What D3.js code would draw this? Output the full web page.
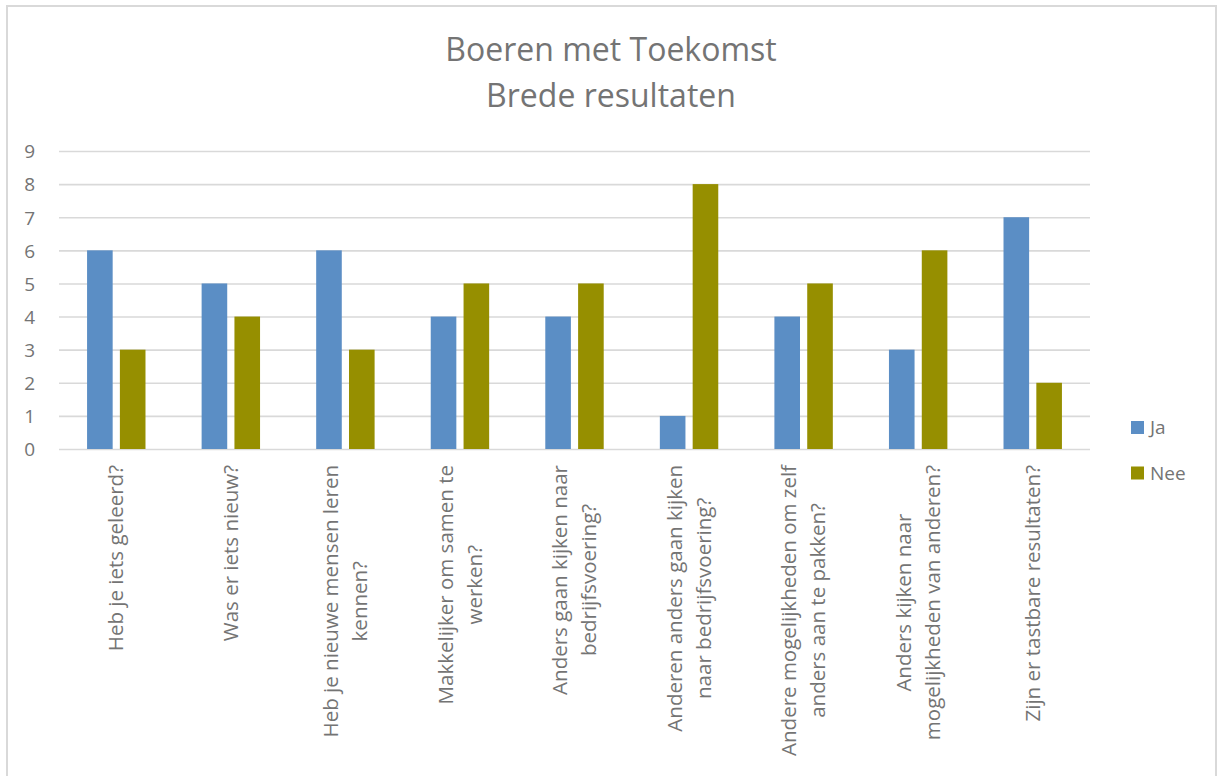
<!DOCTYPE html>
<html>
<head>
<meta charset="utf-8">
<script src="https://cdn.jsdelivr.net/npm/d3@7"></script>
<style>
  body { margin: 0; background: #fff; }
  text { font-family: "Open Sans", sans-serif; fill: #747474; }
</style>
</head>
<body>
<div id="chart"></div>
<script>

// Data
const title_lines = ['Boeren met Toekomst', 'Brede resultaten']
const categories = [
  'Heb je iets geleerd?',
  'Was er iets nieuw?',
  'Heb je nieuwe mensen leren\nkennen?',
  'Makkelijker om samen te\nwerken?',
  'Anders gaan kijken naar\nbedrijfsvoering?',
  'Anderen anders gaan kijken\nnaar bedrijfsvoering?',
  'Andere mogelijkheden om zelf\nanders aan te pakken?',
  'Anders kijken naar\nmogelijkheden van anderen?',
  'Zijn er tastbare resultaten?'
]
const series_names = ['Ja', 'Nee']
const ja_values = [6, 5, 6, 4, 4, 1, 4, 3, 7]
const nee_values = [3, 4, 3, 5, 5, 8, 5, 6, 2]
const y_ticks = [0, 1, 2, 3, 4, 5, 6, 7, 8, 9]
const colors = ['#5b8ec5', '#968f00']

////////////////////////////////////////////////////////////
// Layout
////////////////////////////////////////////////////////////

const W = 1217
const H = 776
const plot = { left: 59, right: 1090, top: 151, bottom: 449 }

let svg = d3.select('#chart')
  .append('svg')
  .attr('width', W)
  .attr('height', H)

// Outer border
svg.append('rect')
  .attr('x', 7)
  .attr('y', 6)
  .attr('width', 1209)
  .attr('height', 820)
  .attr('fill', 'none')
  .attr('stroke', '#d9d9d9')
  .attr('stroke-width', 2)

// Title
svg.append('g')
  .selectAll('text')
  .data(title_lines)
  .enter()
  .append('text')
    .attr('x', 611)
    .attr('y', (d, i) => 61 + i * 46)
    .attr('text-anchor', 'middle')
    .style('font-size', '32px')
    .text(d => d)

////////////////////////////////////////////////////////////
// Scales
////////////////////////////////////////////////////////////

let x0 = d3.scaleBand()
  .domain(categories)
  .range([plot.left, plot.right])
  .paddingInner(0.49)
  .paddingOuter(0.245)

let x1 = d3.scaleBand()
  .domain(series_names)
  .range([0, x0.bandwidth()])
  .paddingInner(0.22)

let y = d3.scaleLinear()
  .domain([0, 9])
  .range([plot.bottom, plot.top])

// Y axis + gridlines
let y_axis = svg.append('g')
  .attr('transform', `translate(${plot.left},0)`)
  .call(
    d3.axisLeft(y)
      .tickValues(y_ticks)
      .tickSize(-(plot.right - plot.left))
      .tickPadding(24)
  )
y_axis.select('.domain').remove()
y_axis.selectAll('line')
  .attr('stroke', '#d9d9d9')
  .attr('stroke-width', 1.6)
y_axis.selectAll('text')
  .style('font-size', '19px')
  .style('font-family', '"Open Sans", sans-serif')
  .attr('fill', '#747474')
  .attr('dy', '0.36em')

////////////////////////////////////////////////////////////
// Bars
////////////////////////////////////////////////////////////

let rows = categories.map((c, i) => ({
  cat: c,
  vals: [
    { name: series_names[0], v: ja_values[i] },
    { name: series_names[1], v: nee_values[i] }
  ]
}))

svg.append('g')
  .selectAll('g')
  .data(rows)
  .enter()
  .append('g')
    .attr('transform', d => `translate(${x0(d.cat)},0)`)
  .selectAll('rect')
  .data(d => d.vals)
  .enter()
  .append('rect')
    .attr('x', d => x1(d.name))
    .attr('width', x1.bandwidth())
    .attr('y', d => y(d.v))
    .attr('height', d => y(0) - y(d.v))
    .attr('fill', (d, i) => colors[i])

// Category labels (rotated, wrapped, centred per line)
let label_top = 465
let line_h = 29
rows.forEach(r => {
  let lines = r.cat.split('\n')
  let cx = x0(r.cat) + x0.bandwidth() / 2
  let g = svg.append('g')
  let texts = g.selectAll('text')
    .data(lines)
    .enter()
    .append('text')
      .attr('text-anchor', 'middle')
      .style('font-size', '20.5px')
      .text(d => d)
  let max_len = d3.max(texts.nodes(), n => n.getComputedTextLength())
  let mid_y = label_top + max_len / 2
  texts.attr('transform', (d, i) => {
    let off = (i - (lines.length - 1) / 2) * line_h
    return `translate(${cx + off},${mid_y}) rotate(-90)`
  })
    .attr('dy', '0.35em')
})

////////////////////////////////////////////////////////////
// Legend
////////////////////////////////////////////////////////////

let legend = svg.append('g')
  .selectAll('g')
  .data(series_names)
  .enter()
  .append('g')
    .attr('transform', (d, i) => `translate(1131,${421 + i * 45.5})`)

legend.append('rect')
  .attr('width', 13)
  .attr('height', 13)
  .attr('fill', (d, i) => colors[i])

legend.append('text')
  .attr('x', 19)
  .attr('y', 6.5)
  .attr('dy', '0.36em')
  .style('font-size', '19px')
  .text(d => d)

</script>
</body>
</html>
